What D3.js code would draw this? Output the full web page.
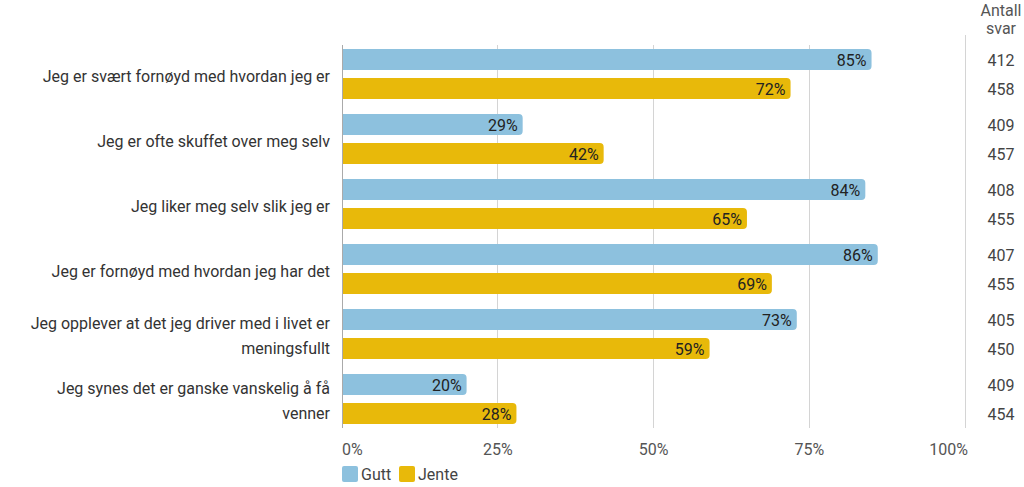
<!DOCTYPE html>
<html><head><meta charset="utf-8">
<script src="https://cdn.jsdelivr.net/npm/d3@7"></script>
<style>body{margin:0;background:#fff}svg{display:block;font-family:Roboto,sans-serif}</style>
</head><body><svg id="c" width="1024" height="487"></svg>
<script>
const categories = [
  ["Jeg er svært fornøyd med hvordan jeg er"],
  ["Jeg er ofte skuffet over meg selv"],
  ["Jeg liker meg selv slik jeg er"],
  ["Jeg er fornøyd med hvordan jeg har det"],
  ["Jeg opplever at det jeg driver med i livet er", "meningsfullt"],
  ["Jeg synes det er ganske vanskelig å få", "venner"]
];
const series = ["Gutt", "Jente"];
const gutt = [85, 29, 84, 86, 73, 20];
const jente = [72, 42, 65, 69, 59, 28];
const nGutt = [412, 409, 408, 407, 405, 409];
const nJente = [458, 457, 455, 455, 450, 454];
const ticks = [0, 25, 50, 75, 100];
const colors = {Gutt: "#8dc1de", Jente: "#e8b90a"};

const svg = d3.select("#c");
const x = d3.scaleLinear().domain([0, 100]).range([342, 965]);
const keys = categories.map((c, i) => i);
const y = d3.scaleBand().domain(keys).range([45, 435]);
const yi = d3.scaleBand().domain(series).range([4, 54]).paddingInner(8/29);

// gridlines
svg.append("g").selectAll("line").data(ticks).join("line")
  .attr("x1", d => x(d)).attr("x2", d => x(d))
  .attr("y1", d => d === 100 ? 35 : 45).attr("y2", 428)
  .attr("stroke", d => d === 0 ? "#aaa" : "#d4d4d4").attr("stroke-width", 1)
  .attr("shape-rendering", "crispEdges");

// tick labels
svg.append("g").selectAll("text").data(ticks).join("text")
  .attr("x", d => d === 100 ? x(d) + 3 : x(d)).attr("y", 455)
  .attr("text-anchor", d => d === 0 ? "start" : d === 100 ? "end" : "middle")
  .attr("font-size", 16).attr("fill", "#555").text(d => d + "%");

// bars
function barPath(x0, x1, y0, h, r) {
  const w = x1 - x0;
  r = Math.min(r, w / 2, h / 2);
  return `M${x0},${y0}H${x1 - r}Q${x1},${y0} ${x1},${y0 + r}V${y0 + h - r}Q${x1},${y0 + h} ${x1 - r},${y0 + h}H${x0}Z`;
}
const rows = [];
keys.forEach(i => {
  rows.push({i, s: "Gutt", v: gutt[i], n: nGutt[i]});
  rows.push({i, s: "Jente", v: jente[i], n: nJente[i]});
});
const g = svg.append("g");
g.selectAll("path").data(rows).join("path")
  .attr("d", d => barPath(x(0) + 1, x(d.v), y(d.i) + yi(d.s), yi.bandwidth(), 4))
  .attr("fill", d => colors[d.s]);
g.selectAll("text.v").data(rows).join("text").attr("class", "v")
  .attr("x", d => x(d.v) - 5).attr("y", d => y(d.i) + yi(d.s) + yi.bandwidth() / 2 + 6)
  .attr("text-anchor", "end").attr("font-size", 16).attr("fill", "#222").text(d => d.v + "%");
g.selectAll("text.n").data(rows).join("text").attr("class", "n")
  .attr("x", 1001).attr("y", d => y(d.i) + yi(d.s) + yi.bandwidth() / 2 + 6)
  .attr("text-anchor", "middle").attr("font-size", 16).attr("fill", "#444").text(d => d.n);

// category labels
const cl = svg.append("g").selectAll("text").data(keys).join("text")
  .attr("text-anchor", "end").attr("font-size", 16).attr("fill", "#333");
cl.each(function(i) {
  const lines = categories[i];
  const cy = y(i) + y.bandwidth() / 2 - 2;
  const lh = 25;
  const start = cy - (lines.length - 1) * lh / 2 + 6;
  d3.select(this).selectAll("tspan").data(lines).join("tspan")
    .attr("x", 330).attr("y", (d, j) => start + j * lh).text(d => d);
});

// header
svg.append("text").attr("x", 1001).attr("y", 16).attr("text-anchor", "middle")
  .attr("font-size", 16).attr("fill", "#555").text("Antall");
svg.append("text").attr("x", 1001).attr("y", 34).attr("text-anchor", "middle")
  .attr("font-size", 16).attr("fill", "#555").text("svar");

// legend
const lg = svg.append("g").selectAll("g").data(series).join("g")
  .attr("transform", (d, i) => `translate(${i === 0 ? 342 : 399},466)`);
lg.append("rect").attr("width", 16).attr("height", 16).attr("rx", 2).attr("fill", d => colors[d]);
lg.append("text").attr("x", 19).attr("y", 14).attr("font-size", 16).attr("fill", "#444").text(d => d);
</script></body></html>
